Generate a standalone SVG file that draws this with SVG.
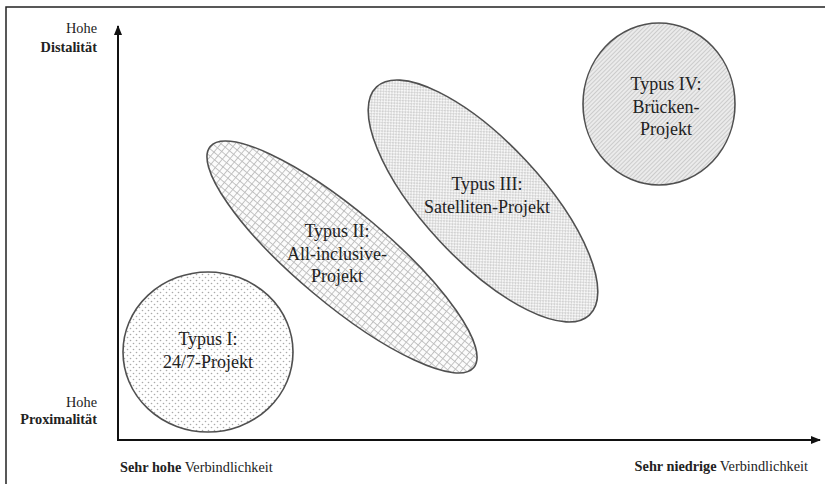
<svg xmlns="http://www.w3.org/2000/svg" width="831" height="484" viewBox="0 0 831 484">
<style>
  .lbl { font-family: "Liberation Serif", "Times New Roman", serif; fill: #222; }
  .node text { font-size: 18px; text-anchor: middle; }
  .ax { font-size: 14.3px; }
  .b { font-weight: bold; }
  .shape { stroke: #505050; stroke-width: 1.6; }
  .axis { stroke: #111; stroke-width: 2; fill: none; }
  .frame { stroke: #222; stroke-width: 1.5; fill: none; }
</style>
<defs>
  <pattern id="dots" width="6" height="6" patternUnits="userSpaceOnUse">
    <rect width="6" height="6" fill="#fff"/>
    <circle cx="1.5" cy="1.5" r="0.8" fill="#aaa"/>
    <circle cx="4.5" cy="4.5" r="0.8" fill="#aaa"/>
  </pattern>
  <pattern id="grid" width="5.5" height="5.5" patternUnits="userSpaceOnUse">
    <rect width="5.5" height="5.5" fill="#fcfcfc"/>
    <path d="M0 0.5H5.5M0.5 0V5.5" stroke="#bdbdbd" stroke-width="0.9"/>
  </pattern>
  <pattern id="dense" width="4" height="4" patternUnits="userSpaceOnUse">
    <rect width="4" height="4" fill="#f6f6f6"/>
    <circle cx="1" cy="1" r="0.85" fill="#b5b5b5"/>
    <circle cx="3" cy="3" r="0.85" fill="#b5b5b5"/>
  </pattern>
  <pattern id="hatch" width="3" height="3" patternUnits="userSpaceOnUse" patternTransform="rotate(45)">
    <rect width="3" height="3" fill="#ebebeb"/>
    <path d="M0 0V3" stroke="#adadad" stroke-width="1"/>
  </pattern>
  <marker id="arr" viewBox="0 0 10 10" refX="9" refY="5" markerWidth="5" markerHeight="5" orient="auto" markerUnits="strokeWidth">
    <path d="M0 1L10 5L0 9Z" fill="#111"/>
  </marker>
</defs>

<g id="frame">
  <path class="frame" d="M6 484V7H825"/>
</g>

<g id="connectors">
  <path class="axis" d="M118 440V26" marker-end="url(#arr)"/>
  <path class="axis" d="M117 440H820" marker-end="url(#arr)"/>
</g>

<g id="axis-labels" class="lbl ax">
  <text x="97" y="33" text-anchor="end">Hohe</text>
  <text x="97" y="52" text-anchor="end" class="b">Distalität</text>
  <text x="97" y="407" text-anchor="end">Hohe</text>
  <text x="97" y="424" text-anchor="end" class="b">Proximalität</text>
  <text x="120" y="472"><tspan class="b">Sehr hohe</tspan> Verbindlichkeit</text>
  <text x="808" y="471" text-anchor="end"><tspan class="b">Sehr niedrige</tspan> Verbindlichkeit</text>
</g>

<g id="typ1" class="node">
  <ellipse class="shape" cx="208" cy="352" rx="85" ry="80" fill="url(#dots)"/>
  <text class="lbl" x="208" y="345">Typus I:</text>
  <text class="lbl" x="208" y="368">24/7-Projekt</text>
</g>

<g id="typ2" class="node">
  <ellipse class="shape" cx="342" cy="257" rx="172" ry="46" transform="rotate(40 342 257)" fill="url(#grid)"/>
  <text class="lbl" x="337" y="237">Typus II:</text>
  <text class="lbl" x="337" y="260">All-inclusive-</text>
  <text class="lbl" x="337" y="282">Projekt</text>
</g>

<g id="typ3" class="node">
  <ellipse class="shape" cx="483" cy="201" rx="156" ry="59" transform="rotate(47 483 201)" fill="url(#dense)"/>
  <text class="lbl" x="487" y="190">Typus III:</text>
  <text class="lbl" x="487" y="213">Satelliten-Projekt</text>
</g>

<g id="typ4" class="node">
  <ellipse class="shape" cx="659" cy="104" rx="76" ry="81" fill="url(#hatch)"/>
  <text class="lbl" x="666" y="90">Typus IV:</text>
  <text class="lbl" x="666" y="113">Brücken-</text>
  <text class="lbl" x="666" y="135">Projekt</text>
</g>
</svg>
